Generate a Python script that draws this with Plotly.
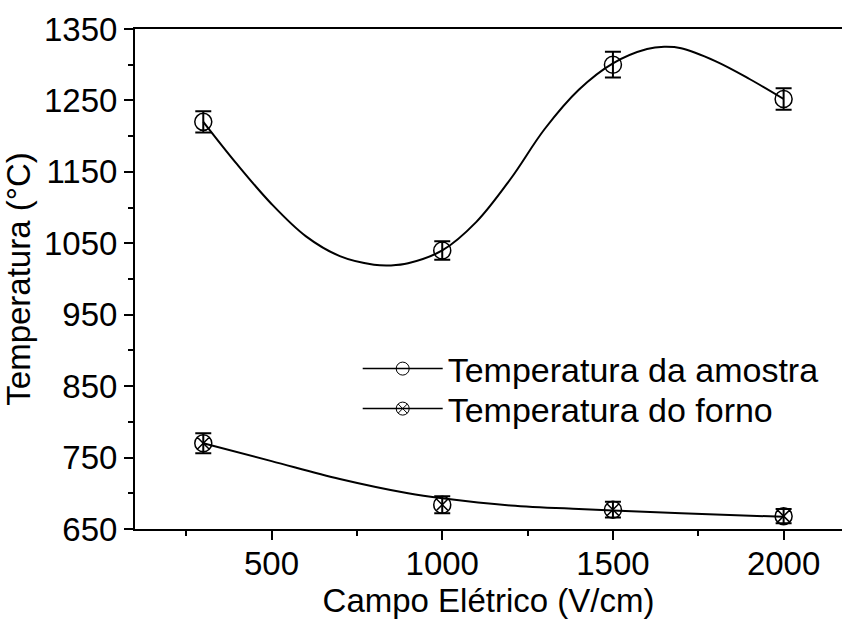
import plotly.graph_objects as go

campo = [300, 1000, 1500, 2000]
temp_amostra = [1220, 1040, 1300, 1252]
err_amostra = [15, 13, 18, 15]
temp_forno = [770, 684, 677, 668]
err_forno = [14, 12, 11, 10]

# Fitted curves
fit_amostra_x = [300, 400, 500, 600, 700, 800, 850, 900, 1000, 1100, 1200, 1300, 1400, 1500, 1600, 1650, 1700, 1800, 1900, 2000]
fit_amostra_y = [1220, 1160, 1105, 1060, 1032, 1020, 1019, 1022, 1040, 1080, 1140, 1210, 1265, 1302, 1322, 1325, 1323, 1305, 1280, 1252]
fit_forno_x = [300, 500, 700, 900, 1000, 1200, 1400, 1500, 1700, 2000]
fit_forno_y = [770, 745, 720, 700, 693, 683, 678, 676, 672, 667]

x_ticks = [500, 1000, 1500, 2000]
y_ticks = [650, 750, 850, 950, 1050, 1150, 1250, 1350]

FONT = "Liberation Sans, Arial, sans-serif"
FS = 33
FS_LEG = 34

fig = go.Figure()

fig.add_trace(go.Scatter(x=fit_amostra_x, y=fit_amostra_y, mode="lines",
                         line=dict(color="black", width=2, shape="spline", smoothing=1.0),
                         showlegend=False, hoverinfo="skip"))
fig.add_trace(go.Scatter(x=fit_forno_x, y=fit_forno_y, mode="lines",
                         line=dict(color="black", width=2, shape="spline", smoothing=1.0),
                         showlegend=False, hoverinfo="skip"))

fig.add_trace(go.Scatter(x=campo, y=temp_amostra, mode="markers",
                         marker=dict(symbol="circle-open", size=17, color="black", line=dict(width=1.5)),
                         error_y=dict(type="data", array=err_amostra, color="black", thickness=2, width=8),
                         showlegend=False))
fig.add_trace(go.Scatter(x=campo, y=temp_forno, mode="markers",
                         marker=dict(symbol="circle-x-open", size=17, color="black", line=dict(width=1.5)),
                         error_y=dict(type="data", array=err_forno, color="black", thickness=2, width=8),
                         showlegend=False))

# legend entries
fig.add_trace(go.Scatter(x=[None], y=[None], mode="lines+markers", name="Temperatura da amostra",
                         line=dict(color="black", width=1.5), legend="legend",
                         marker=dict(symbol="circle-open", size=13, color="black", line=dict(width=1))))
fig.add_trace(go.Scatter(x=[None], y=[None], mode="lines+markers", name="Temperatura do forno",
                         line=dict(color="black", width=1.5), legend="legend2",
                         marker=dict(symbol="circle-x-open", size=13, color="black", line=dict(width=1))))

leg_common = dict(xanchor="left", yanchor="top", bgcolor="rgba(0,0,0,0)", itemwidth=80,
                  font=dict(family=FONT, size=FS_LEG, color="black"))

fig.update_layout(
    width=842, height=619,
    margin=dict(l=135, r=0, t=29, b=90),
    paper_bgcolor="white", plot_bgcolor="white",
    font=dict(family=FONT, size=FS, color="black"),
    showlegend=True,
    legend=dict(x=0.315, y=0.378, **leg_common),
    legend2=dict(x=0.315, y=0.298, **leg_common),
    xaxis=dict(range=[100, 2171], tickvals=x_ticks, ticktext=[str(v) for v in x_ticks],
               showgrid=False, zeroline=False, showline=True, linecolor="black", linewidth=2,
               mirror=True, ticks="outside", ticklen=9, tickwidth=2, tickcolor="black",
               ticklabelstandoff=-5,
               minor=dict(tickvals=[250, 750, 1250, 1750], ticks="outside", ticklen=5, tickwidth=2, tickcolor="black"),
               title=dict(text="Campo Elétrico (V/cm)", standoff=8, font=dict(size=FS)),
               tickfont=dict(size=FS)),
    yaxis=dict(range=[650, 1350], tickvals=y_ticks, ticktext=[str(v) for v in y_ticks],
               showgrid=False, zeroline=False, showline=True, linecolor="black", linewidth=2,
               mirror=False, ticks="outside", ticklen=9, tickwidth=2, tickcolor="black",
               minor=dict(tickvals=[700, 800, 900, 1000, 1100, 1200, 1300], ticks="outside", ticklen=5, tickwidth=2, tickcolor="black"),
               title=dict(text="Temperatura (°C)", standoff=3, font=dict(size=FS)),
               tickfont=dict(size=FS)),
)

fig.write_html("out.html")
